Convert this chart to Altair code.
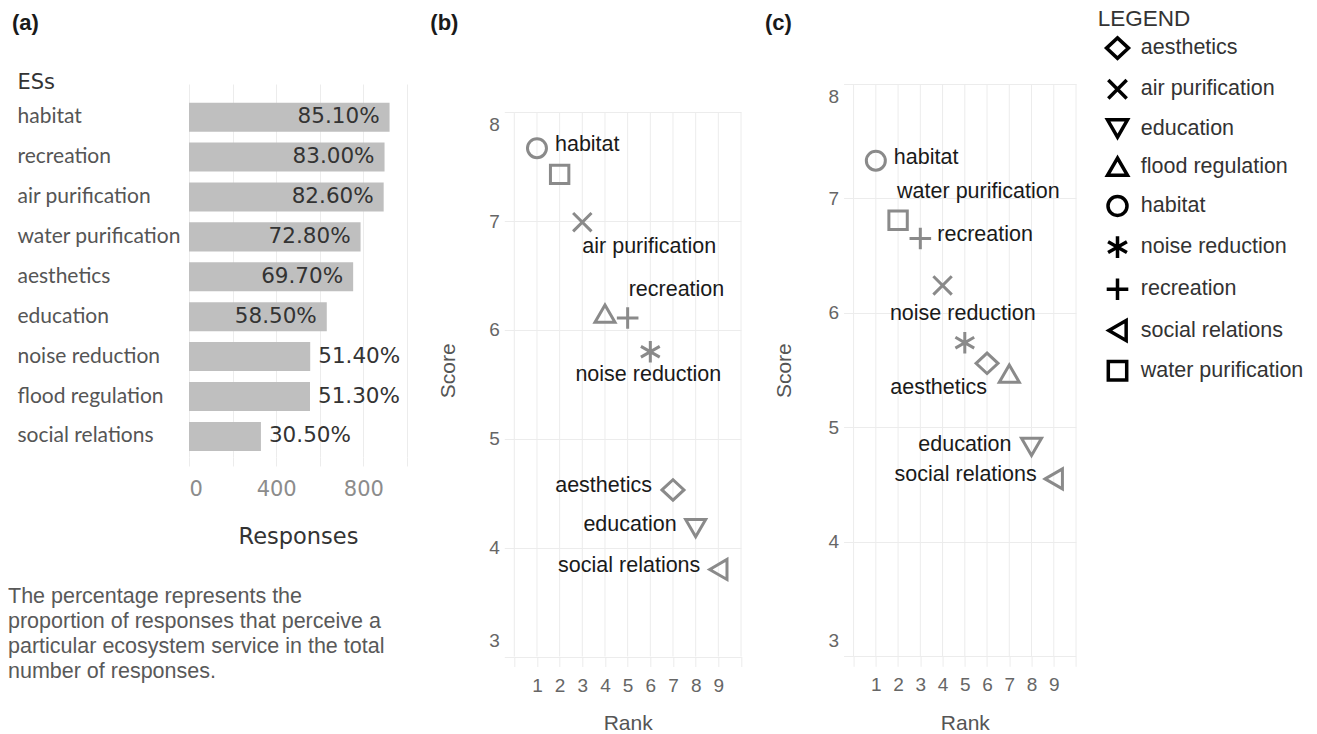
import altair as alt
import pandas as pd

# ---------------- data ----------------
es_order = ["habitat", "recreation", "air purification", "water purification",
            "aesthetics", "education", "noise reduction", "flood regulation",
            "social relations"]
responses = [920, 897, 893, 787, 753, 632, 556, 555, 330]
percentages = [85.10, 83.00, 82.60, 72.80, 69.70, 58.50, 51.40, 51.30, 30.50]
response_ticks = [0, 400, 800]
response_grid = [0, 200, 400, 600, 800, 1000]

services = ["aesthetics", "air purification", "education", "flood regulation",
            "habitat", "noise reduction", "recreation", "social relations",
            "water purification"]
rank_b = [7, 3, 8, 4, 1, 6, 5, 9, 2]
score_b = [4.53, 6.99, 4.18, 6.15, 7.67, 5.80, 6.11, 3.80, 7.43]
rank_c = [6, 4, 8, 7, 1, 5, 3, 9, 2]
score_c = [5.56, 6.24, 4.83, 5.47, 7.33, 5.74, 6.65, 4.55, 6.81]
rank_ticks = [1, 2, 3, 4, 5, 6, 7, 8, 9]
rank_grid = [0, 1, 2, 3, 4, 5, 6, 7, 8, 9, 10]
score_ticks = [3, 4, 5, 6, 7, 8]

note_lines = ["The percentage represents the",
              "proportion of responses that perceive a",
              "particular ecosystem service in the total",
              "number of responses."]

# ---------------- styles ----------------
FONT = "Liberation Sans"
FONT_A = "Lato"
FONT_NUM = "DejaVu Sans"
GRID = "#ececec"
GRAY = "#8a8a8a"
BAR = "#bfbfbf"

CIRCLE = "M0.95,0A0.95,0.95,0,1,1,-0.95,0A0.95,0.95,0,1,1,0.95,0Z"
SQUARE = "M-0.92,-0.92L0.92,-0.92L0.92,0.92L-0.92,0.92Z"
XSHAPE = "M-0.92,-0.92L0.92,0.92M-0.92,0.92L0.92,-0.92"
PLUS = "M-1.08,0L1.08,0M0,-1.08L0,1.08"
AST = "M0,-1.08L0,1.08M-0.94,-0.54L0.94,0.54M-0.94,0.54L0.94,-0.54"
DIAMOND = "M-1.1,0L0,-1.02L1.1,0L0,1.02Z"
shape_range = [DIAMOND, XSHAPE, "triangle-down", "triangle-up", CIRCLE,
               AST, PLUS, "triangle-left", SQUARE]


def shape_scale():
    return alt.Scale(domain=services, range=shape_range)


def panel_title(label, dx, offset):
    return alt.TitleParams(text=["", label], anchor="start", frame="group",
                           dx=dx, offset=offset, font=FONT, fontSize=22,
                           fontWeight="bold", color="#1a1a1a", lineHeight=2,
                           baseline="alphabetic")


# ---------------- panel (a) ----------------
df_a = pd.DataFrame({"service": es_order, "responses": responses,
                     "pct": percentages})
base_a = alt.Chart(df_a)
xa = alt.X("responses:Q", scale=alt.Scale(domain=[0, 1000], nice=False),
           axis=alt.Axis(values=response_grid,
                         labelExpr=f"indexof({response_ticks}, datum.value) >= 0 ? datum.label : ''",
                         labelFlush=True, domain=False, grid=True,
                         gridColor=GRID, ticks=True, tickColor=GRID,
                         tickSize=9, labelPadding=12.5, labelFont=FONT_NUM,
                         labelFontSize=21, labelColor="#8c8c8c",
                         title="Responses", titleFont=FONT_NUM,
                         titleFontSize=22.5, titleColor="#333",
                         titleFontWeight="normal", titlePadding=25.7))
ya = alt.Y("service:N", sort=es_order,
           scale=alt.Scale(paddingInner=0.273, paddingOuter=0.31, align=0.754),
           axis=alt.Axis(domain=False, ticks=False, tickSize=0, grid=False,
                         labelAlign="left", labelPadding=172,
                         labelFont=FONT_A, labelFontSize=21,
                         labelColor="#555", labelLimit=300, title="ESs",
                         titleAngle=0, titleAlign="left",
                         titleBaseline="middle", titleX=-172, titleY=-1.5,
                         titleFont=FONT_NUM, titleFontSize=21,
                         titleColor="#333", titleFontWeight="normal"))
bars = base_a.mark_bar(color=BAR).encode(x=xa, y=ya)
pct_text = dict(baseline="middle", font=FONT_NUM, fontSize=21.5, color="#333")
inside = (base_a.transform_filter("datum.responses > 600")
          .transform_calculate(frac="datum.pct / 100")
          .mark_text(align="right", dx=-10, **pct_text)
          .encode(x=xa, y=ya, text=alt.Text("frac:Q", format=".2%")))
outside = (base_a.transform_filter("datum.responses <= 600")
           .transform_calculate(frac="datum.pct / 100")
           .mark_text(align="left", dx=8, **pct_text)
           .encode(x=xa, y=ya, text=alt.Text("frac:Q", format=".2%")))
note = (alt.Chart(pd.DataFrame({"note": ["\n".join(note_lines)]}))
        .mark_text(align="left", baseline="top", lineBreak="\n",
                   lineHeight=25, font=FONT, fontSize=21.5, color="#595959")
        .encode(x=alt.value(-181), y=alt.value(502.1), text="note:N"))
panel_a = alt.layer(bars, inside, outside, note).properties(
    width=218, height=373, title=panel_title("(a)", -177, 20))


# ---------------- panels (b) and (c) ----------------
ax_common = dict(domain=False, ticks=True, tickColor=GRID, tickSize=10,
                 labelFont=FONT, labelFontSize=19, labelColor="#666",
                 titleFont=FONT, titleFontSize=21, titleColor="#555",
                 titleFontWeight="normal")

end_label_offset = {
    "condition": [
        {"test": f"datum.value === {score_ticks[-1]}", "value": 12.7},
        {"test": f"datum.value === {score_ticks[0]}", "value": -15.8},
    ],
    "value": 0,
}


def scatter(ranks, scores, label_specs, width, height, ymax, title,
            ytitle_pad):
    df = pd.DataFrame({"service": services, "rank": ranks, "score": scores})
    base = alt.Chart(df)
    x = alt.X("rank:Q", scale=alt.Scale(domain=[0, 10], nice=False, zero=False),
              axis=alt.Axis(values=rank_grid, grid=False, format="d",
                            labelExpr=f"indexof({rank_ticks}, datum.value) >= 0 ? datum.label : ''",
                            labelFlush=False,
                            title="Rank", labelPadding=9.5, titlePadding=17.5,
                            **ax_common))
    y = alt.Y("score:Q", scale=alt.Scale(domain=[3, ymax], nice=False, zero=False),
              axis=alt.Axis(values=score_ticks, labelFlush=False, grid=True,
                            gridColor=GRID, gridWidth=1, format="d",
                            labelBaseline="middle",
                            labelOffset=end_label_offset, title="Score",
                            labelPadding=5, titlePadding=ytitle_pad,
                            **ax_common))
    vgrid = alt.Chart(pd.DataFrame({"rank": rank_grid})).mark_rule(
        color=GRID, strokeWidth=1).encode(
        x=x, y=alt.datum(score_ticks[0]), y2=alt.datum(score_ticks[-1]))
    pts = base.mark_point(filled=False, size=400, strokeWidth=3, opacity=1,
                          color=GRAY).encode(
        x=x, y=y, shape=alt.Shape("service:N", scale=shape_scale(), legend=None))
    layers = [vgrid, pts]
    for name, (align, dx, dy) in label_specs.items():
        layers.append(
            base.transform_filter(alt.datum.service == name)
            .mark_text(align=align, baseline="middle", dx=dx, dy=dy,
                       font=FONT, fontSize=21.5, color="#1a1a1a")
            .encode(x=x, y=y, text="service:N"))
    return alt.layer(*layers).properties(width=width, height=height,
                                         title=title)


labels_b = {
    "habitat": ("left", 18, -3),
    "air purification": ("left", 0, 25),
    "recreation": ("left", 1, -28),
    "noise reduction": ("center", -2, 23),
    "aesthetics": ("right", -21, -4),
    "education": ("right", -19, -3),
    "social relations": ("right", -18, -3),
}
labels_c = {
    "habitat": ("left", 18, -3),
    "water purification": ("left", -1, -28),
    "recreation": ("left", 17, -4),
    "noise reduction": ("center", -2, -29),
    "aesthetics": ("right", 0, 25),
    "education": ("right", -20, -2),
    "social relations": ("right", -17, -4),
}

panel_b = scatter(rank_b, score_b, labels_b, 226.7, 572.5, 8.26,
                  panel_title("(b)", -84, 32), 30)
panel_c = scatter(rank_c, score_c, labels_c, 222.4, 572.3, 8,
                  panel_title("(c)", -88.6, 32), 34)

# ---------------- legend ----------------
legend_panel = alt.Chart(pd.DataFrame({"service": services})).mark_point(
    filled=False, size=0, opacity=1, color="black", strokeWidth=3.5
).encode(
    shape=alt.Shape("service:N", scale=shape_scale(),
                    legend=alt.Legend(title="LEGEND", orient="none",
                                      legendX=0, legendY=-76, padding=0,
                                      symbolSize=400, symbolStrokeWidth=3.5,
                                      symbolStrokeColor="black",
                                      symbolOffset=7.7, labelOffset=11.3,
                                      rowPadding=6.2, titlePadding=5.6,
                                      labelFont=FONT, labelFontSize=21.5,
                                      labelColor="#333", labelLimit=400,
                                      titleFont=FONT, titleFontSize=22.5,
                                      titleFontWeight="normal",
                                      titleColor="#333", titleLimit=400))
).properties(width=1, height=1)

cols = alt.hconcat(panel_a, panel_b, panel_c, spacing=22.3)
chart = (alt.hconcat(cols, legend_panel, spacing=13.8)
         .resolve_scale(shape="independent")
         .resolve_legend(shape="independent")
         .properties(padding=0, background="white")
         .configure_view(strokeWidth=0))

chart.save("out.html", embed_options={"renderer": "svg", "actions": False})
